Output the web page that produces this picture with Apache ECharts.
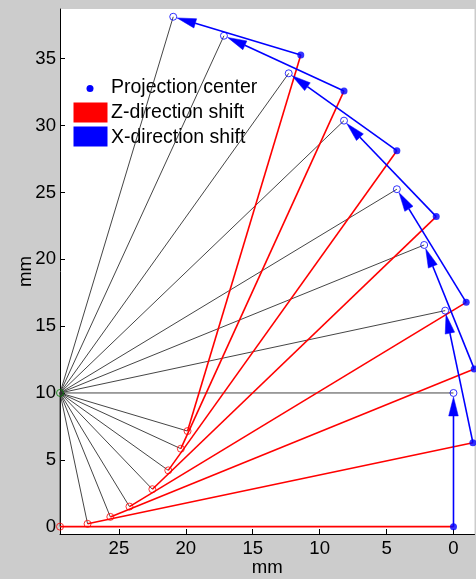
<!DOCTYPE html>
<html>
<head>
<meta charset="utf-8">
<script src="https://cdn.jsdelivr.net/npm/echarts@6/dist/echarts.min.js"></script>
<style>
  html, body { margin: 0; padding: 0; background: #cccccc; }
  #chart { width: 476px; height: 579px; }
</style>
</head>
<body>
<div id="chart"></div>
<script>
// Rotation pivot of the scan geometry (mm)
const pivot = [29.4, 10.0];

// Detector positions, one per view (open blue circles)
const detX = [0.00, 0.62, 2.19, 4.23, 8.18, 12.31, 17.15, 20.94];
const detY = [10.00, 16.16, 21.07, 25.24, 30.37, 33.91, 36.72, 38.14];

// Projection centres, one per view (filled blue dots)
const projX = [0.00, -1.45, -1.55, -0.95, 1.29, 4.23, 8.18, 11.41];
const projY = [0.00, 6.28, 11.80, 16.78, 23.19, 28.12, 32.59, 35.28];

// Source positions, one per view (open red circles)
const srcX = [29.40, 27.34, 25.64, 24.21, 22.50, 21.31, 20.37, 19.87];
const srcY = [0.00, 0.21, 0.73, 1.50, 2.80, 4.21, 5.83, 7.15];

// Tick labels
const xTicks = [0, 5, 10, 15, 20, 25];
const yTicks = [0, 5, 10, 15, 20, 25, 30, 35];

const FONT = '"Liberation Sans", Arial, sans-serif';

// Segment rows: [x1, y1, x2, y2]
const rayRows = [];
detX.forEach((x, i) => rayRows.push([pivot[0], pivot[1], x, detY[i]]));
srcX.forEach((x, i) => rayRows.push([pivot[0], pivot[1], x, srcY[i]]));
const zRows = srcX.map((x, i) => [x, srcY[i], projX[i], projY[i]]);
const xRows = projX.map((x, i) => [x, projY[i], detX[i], detY[i]]);

function segment(color, width) {
  return function (params, api) {
    const a = api.coord([api.value(0), api.value(1)]);
    const b = api.coord([api.value(2), api.value(3)]);
    return {
      type: 'line',
      shape: { x1: a[0], y1: a[1], x2: b[0], y2: b[1] },
      style: { stroke: color, lineWidth: width }
    };
  };
}

function arrow(color, width) {
  return function (params, api) {
    const a = api.coord([api.value(0), api.value(1)]);
    const b = api.coord([api.value(2), api.value(3)]);
    const dx = b[0] - a[0], dy = b[1] - a[1];
    const len = Math.sqrt(dx * dx + dy * dy) || 1;
    const ux = dx / len, uy = dy / len;
    const gap = 4, headLen = 19, headHalf = 4.8;
    const tip = [b[0] - ux * gap, b[1] - uy * gap];
    const base = [tip[0] - ux * headLen, tip[1] - uy * headLen];
    return {
      type: 'group',
      children: [
        {
          type: 'line',
          shape: { x1: a[0], y1: a[1], x2: base[0], y2: base[1] },
          style: { stroke: color, lineWidth: width }
        },
        {
          type: 'polygon',
          shape: {
            points: [
              tip,
              [base[0] - uy * headHalf, base[1] + ux * headHalf],
              [base[0] + uy * headHalf, base[1] - ux * headHalf]
            ]
          },
          style: { fill: color, stroke: color, lineWidth: 0.5 }
        }
      ]
    };
  };
}

const chart = echarts.init(document.getElementById('chart'), null, { renderer: 'canvas' });

const axisCommon = {
  type: 'value',
  splitLine: { show: false },
  axisLine: { show: true, onZero: false, lineStyle: { color: '#000', width: 1 } },
  axisTick: { show: true, inside: true, length: 5, lineStyle: { color: '#000' } },
  nameMoveOverlap: false,
  nameTextStyle: { fontSize: 18.6, color: '#000', fontFamily: FONT }
};

chart.setOption({
  backgroundColor: '#cccccc',
  animation: false,
  grid: {
    left: 60, right: 1.5, top: 9, bottom: 45,
    show: true, backgroundColor: '#ffffff', borderWidth: 0,
    outerBoundsMode: 'none'
  },
  xAxis: Object.assign({}, axisCommon, {
    inverse: true,
    min: -1.57, max: 29.4,
    name: 'mm', nameLocation: 'middle', nameGap: 24,
    axisTick: Object.assign({}, axisCommon.axisTick, { customValues: xTicks }),
    axisLabel: { customValues: xTicks, fontSize: 18.6, color: '#000', fontFamily: FONT, margin: 5 }
  }),
  yAxis: Object.assign({}, axisCommon, {
    min: -0.55, max: 38.72,
    name: 'mm', nameLocation: 'middle', nameGap: 25, nameRotate: 90,
    axisTick: Object.assign({}, axisCommon.axisTick, { customValues: yTicks }),
    axisLabel: { customValues: yTicks, fontSize: 18.6, color: '#000', fontFamily: FONT, margin: 4 }
  }),
  series: [
    {
      type: 'custom', name: 'rays',
      renderItem: segment('#303030', 0.9),
      encode: { x: [0, 2], y: [1, 3] },
      data: rayRows, z: 1
    },
    {
      type: 'custom', name: 'Z-direction shift',
      renderItem: segment('#ff0000', 1.6),
      encode: { x: [0, 2], y: [1, 3] },
      data: zRows, z: 2
    },
    {
      type: 'custom', name: 'X-direction shift',
      renderItem: arrow('#0000ff', 1.6),
      encode: { x: [0, 2], y: [1, 3] },
      data: xRows, z: 3
    },
    {
      type: 'scatter', name: 'source',
      symbol: 'circle', symbolSize: 7,
      itemStyle: { color: 'rgba(0,0,0,0)', borderColor: '#ff0000', borderWidth: 1 },
      data: srcX.map((x, i) => [x, srcY[i]]), z: 4, clip: false
    },
    {
      type: 'scatter', name: 'detector',
      symbol: 'circle', symbolSize: 7,
      itemStyle: { color: 'rgba(0,0,0,0)', borderColor: '#0000ff', borderWidth: 1 },
      data: detX.map((x, i) => [x, detY[i]]), z: 4, clip: false
    },
    {
      type: 'scatter', name: 'Projection center',
      symbol: 'circle', symbolSize: 7,
      itemStyle: { color: '#0000ff' },
      data: projX.map((x, i) => [x, projY[i]]), z: 5, clip: false
    },
    {
      type: 'scatter', name: 'pivot',
      symbol: 'circle', symbolSize: 7,
      itemStyle: { color: 'rgba(0,0,0,0)', borderColor: '#008000', borderWidth: 1 },
      data: [pivot], z: 5, clip: false
    }
  ],
  graphic: [
    {
      type: 'group', left: 66, top: 75, z: 100,
      children: [
        { type: 'rect', shape: { x: 0, y: 0, width: 202, height: 76 }, style: { fill: '#ffffff' } },
        { type: 'circle', shape: { cx: 24, cy: 13.5, r: 3.5 }, style: { fill: '#0000ff' } },
        { type: 'text', x: 45, y: 13, style: { text: 'Projection center', font: '19.5px ' + FONT, fill: '#000', verticalAlign: 'middle' } },
        { type: 'rect', shape: { x: 7.5, y: 27.5, width: 34, height: 20 }, style: { fill: '#ff0000' } },
        { type: 'text', x: 45, y: 38, style: { text: 'Z-direction shift', font: '19.5px ' + FONT, fill: '#000', verticalAlign: 'middle' } },
        { type: 'rect', shape: { x: 7.5, y: 51.5, width: 34, height: 20 }, style: { fill: '#0000ff' } },
        { type: 'text', x: 45, y: 62.5, style: { text: 'X-direction shift', font: '19.5px ' + FONT, fill: '#000', verticalAlign: 'middle' } }
      ]
    }
  ]
});
</script>
</body>
</html>
